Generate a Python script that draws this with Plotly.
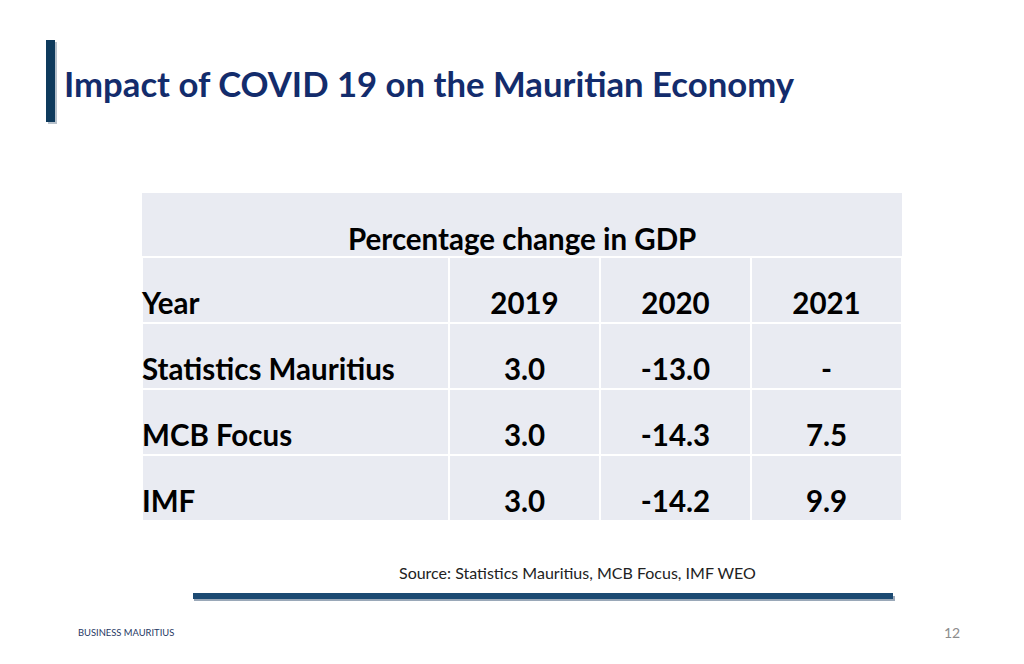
import plotly.graph_objects as go

W, H = 1024, 664
OFF = 8  # page body margin; axes below are set up in screen pixels

title = "Impact of COVID 19 on the Mauritian Economy"
table_title = "Percentage change in GDP"
header = ["Year", "2019", "2020", "2021"]
sources = ["Statistics Mauritius", "MCB Focus", "IMF"]
gdp_2019 = ["3.0", "3.0", "3.0"]
gdp_2020 = ["-13.0", "-14.3", "-14.2"]
gdp_2021 = ["-", "7.5", "9.9"]
source_note = "Source: Statistics Mauritius, MCB Focus, IMF WEO"
footer_left = "BUSINESS MAURITIUS"
page_no = "12"

# layout (pixel) geometry of the table
COL_EDGES = [142, 449, 600, 751, 902]
ROW_EDGES = [257, 323, 389, 455, 521]
TITLE_ROW = [192, 257]
TEXT_DROP = 50  # text centre below row top

FILL = "#e9ebf2"
FONT = "Lato"
TS = 29.5

rows = [header] + [list(r) for r in zip(sources, gdp_2019, gdp_2020, gdp_2021)]

fig = go.Figure()

# table cell backgrounds (white gaps form the grid)
fig.add_trace(go.Heatmap(
    x=COL_EDGES, y=ROW_EDGES,
    z=[[0] * (len(COL_EDGES) - 1) for _ in range(len(ROW_EDGES) - 1)],
    colorscale=[[0, FILL], [1, FILL]], showscale=False,
    xgap=2, ygap=2, hoverinfo="skip",
))
fig.add_trace(go.Heatmap(
    x=[COL_EDGES[0], COL_EDGES[-1]], y=TITLE_ROW, z=[[0]],
    colorscale=[[0, FILL], [1, FILL]], showscale=False,
    xgap=0, ygap=2, hoverinfo="skip",
))

# table text
for ri, row in enumerate(rows):
    yc = ROW_EDGES[ri] + TEXT_DROP
    fig.add_trace(go.Scatter(
        x=[COL_EDGES[0]], y=[yc], mode="text",
        text=[f"<b>{row[0]}</b>"], textposition="middle right",
        textfont=dict(family=FONT, size=TS, color="black"),
        hoverinfo="skip", showlegend=False,
    ))
    fig.add_trace(go.Scatter(
        x=[(COL_EDGES[i] + COL_EDGES[i + 1]) / 2 for i in range(1, 4)],
        y=[yc] * 3, mode="text",
        text=[f"<b>{v}</b>" for v in row[1:]], textposition="middle center",
        textfont=dict(family=FONT, size=TS, color="black"),
        hoverinfo="skip", showlegend=False,
    ))

shapes = [
    # title accent bar shadow + bar
    dict(type="rect", xref="x", yref="y", x0=48, x1=57, y0=42, y1=124,
         fillcolor="#b8c2cc", line=dict(width=0)),
    dict(type="rect", xref="x", yref="y", x0=46, x1=55, y0=40, y1=122,
         fillcolor="#0e3a5c", line=dict(width=0)),
    # bottom rule shadow + rule
    dict(type="rect", xref="x", yref="y", x0=194, x1=895, y0=596, y1=601,
         fillcolor="#9aa8b8", line=dict(width=0)),
    dict(type="rect", xref="x", yref="y", x0=193, x1=893, y0=593, y1=599,
         fillcolor="#1c4a72", line=dict(width=0)),
]

annotations = [
    dict(text=f"<b>{title}</b>", x=62, y=83, xref="x", yref="y",
         xanchor="left", yanchor="middle", showarrow=False,
         font=dict(family=FONT, size=34.7, color="#132c6c")),
    dict(text=f"<b>{table_title}</b>", x=522, y=238, xref="x", yref="y",
         xanchor="center", yanchor="middle", showarrow=False,
         font=dict(family=FONT, size=TS, color="black")),
    dict(text=source_note, x=577, y=572, xref="x", yref="y",
         xanchor="center", yanchor="middle", showarrow=False,
         font=dict(family=FONT, size=16, color="#222222")),
    dict(text=footer_left, x=76, y=632, xref="x", yref="y",
         xanchor="left", yanchor="middle", showarrow=False,
         font=dict(family=FONT, size=9.4, color="#1f3864")),
    dict(text=page_no, x=962, y=632, xref="x", yref="y",
         xanchor="right", yanchor="middle", showarrow=False,
         font=dict(family=FONT, size=14, color="#8c8c8c")),
]

fig.update_layout(
    width=W, height=H,
    margin=dict(l=0, r=0, t=0, b=0),
    paper_bgcolor="white", plot_bgcolor="white",
    xaxis=dict(range=[OFF, W + OFF], visible=False, fixedrange=True),
    yaxis=dict(range=[H + OFF, OFF], visible=False, fixedrange=True),
    shapes=shapes, annotations=annotations,
    showlegend=False,
)

fig.write_html("out.html")
